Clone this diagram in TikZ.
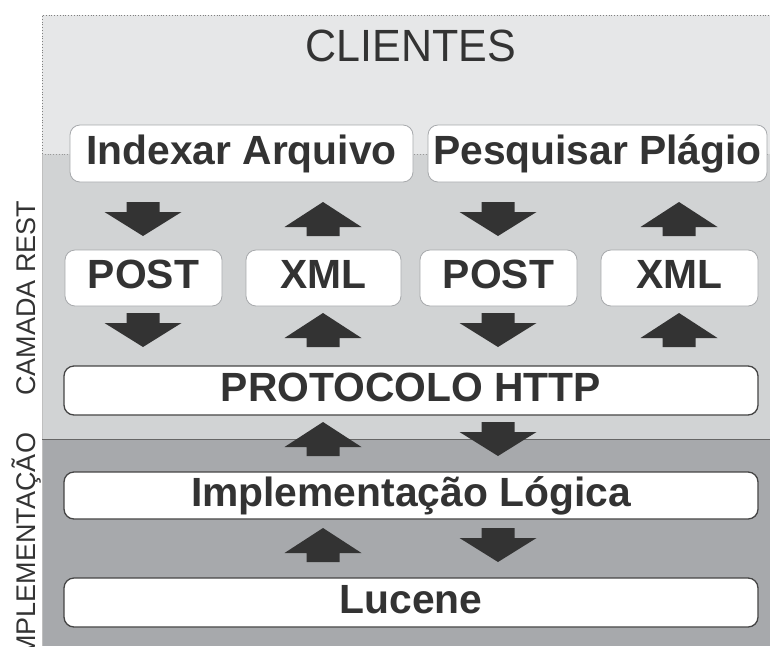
\documentclass[tikz,border=0pt]{standalone}
\usepackage{fontspec}
\setmainfont{Liberation Sans}
\definecolor{topbg}{HTML}{E6E7E8}
\definecolor{midbg}{HTML}{D1D3D4}
\definecolor{botbg}{HTML}{A7A9AC}
\definecolor{ink}{HTML}{333333}
\definecolor{edgelight}{HTML}{A7A9AC}
\definecolor{edgedark}{HTML}{454545}
\tikzset{
  boxlight/.style={draw=edgelight, line width=0.8pt, fill=white, rounded corners=10pt,
    inner sep=0pt, text=ink, font=\bfseries\fontsize{40.8}{40.8}\selectfont,
    text height=29pt, text depth=8pt},
  boxdark/.style={boxlight, draw=edgedark, line width=1.3pt},
  sidelabel/.style={rotate=90, text=ink, font=\fontsize{27}{27}\selectfont,
    inner sep=0pt, text height=19.3pt, text depth=0pt},
  darrow/.pic={\fill[ink] (-16.5,-17) -- (16.5,-17) -- (16.5,-7) -- (38.5,-7) -- (0,17) -- (-38.5,-7) -- (-16.5,-7) -- cycle;},
  uarrow/.pic={\fill[ink] (0,-17) -- (38.5,8) -- (16.5,8) -- (16.5,17) -- (-16.5,17) -- (-16.5,8) -- (-38.5,8) -- cycle;}
}
\begin{document}
\begin{tikzpicture}[x=1pt,y=-1pt]
\useasboundingbox (0,0) rectangle (770,646);
\clip (0,0) rectangle (770,646);
% regions
\fill[topbg] (42,15) rectangle (770,154);
\fill[midbg] (42,154) rectangle (770,439);
\fill[botbg] (42,439) rectangle (770,646);
\draw[gray, dotted, line width=0.8pt] (42,154) -- (42,15) -- (770,15);
\draw[gray!80, dotted, line width=0.8pt] (42,154) -- (770,154);
\draw[black!25, line width=0.6pt] (42,154) -- (42,646);
\draw[black!60, line width=1pt] (42,439) -- (770,439);
% title
\node[text=ink, font=\fontsize{43}{43}\selectfont, inner sep=0pt, yscale=1.05] (cli) at (411,46) {CLIENTES};
% side labels
\node[sidelabel] (rest) at (26,298) {CAMADA REST};
\node[sidelabel] (impl) at (26,549) {IMPLEMENTAÇÃO};
% boxes
\node[boxlight, minimum width=343pt, minimum height=57pt] (idx) at (241.5,153.5) {Indexar Arquivo};
\node[boxlight, minimum width=339pt, minimum height=57pt] (pes) at (597.5,153.5) {Pesquisar Plágio};
\node[boxlight, minimum width=157pt, minimum height=56pt] (post1) at (143.5,278) {POST};
\node[boxlight, minimum width=155pt, minimum height=56pt] (xml1) at (323.5,278) {XML};
\node[boxlight, minimum width=157pt, minimum height=56pt] (post2) at (498.5,278) {POST};
\node[boxlight, minimum width=157pt, minimum height=56pt] (xml2) at (679.5,278) {XML};
\node[boxdark, minimum width=694pt, minimum height=49pt] (http) at (411,390.5) {PROTOCOLO HTTP};
\node[boxdark, minimum width=694pt, minimum height=47pt] (logic) at (411,495.5) {Implementação Lógica};
\node[boxdark, minimum width=694pt, minimum height=49pt] (luc) at (411,602.5) {Lucene};
% block arrows
\pic at (143,219) {darrow};
\pic at (323,219) {uarrow};
\pic at (498,219) {darrow};
\pic at (679,219) {uarrow};
\pic at (143,330) {darrow};
\pic at (323,330) {uarrow};
\pic at (498,330) {darrow};
\pic at (679,330) {uarrow};
\pic at (323,439) {uarrow};
\pic at (498,439) {darrow};
\pic at (323,545) {uarrow};
\pic at (498,545) {darrow};
\end{tikzpicture}
\end{document}
